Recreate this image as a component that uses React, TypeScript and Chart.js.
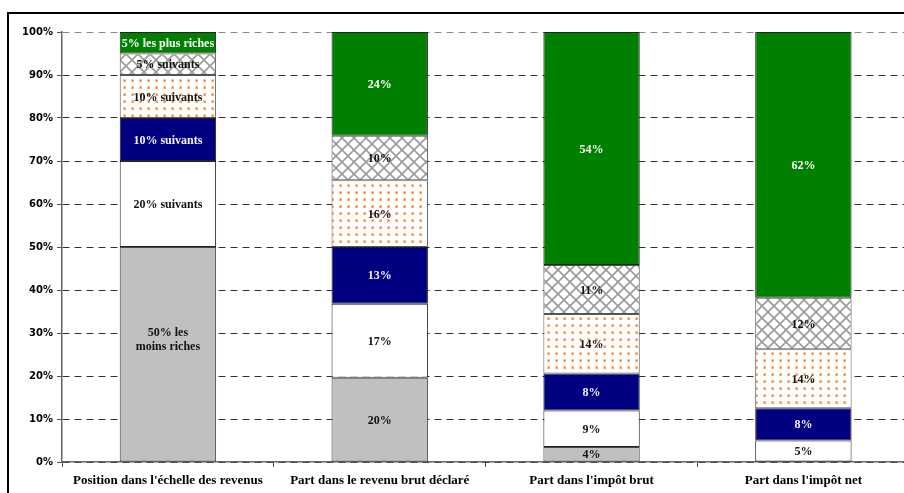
import React, { useEffect, useRef } from 'react';
import { Chart, registerables } from 'chart.js';
Chart.register(...registerables);

const categories = [
  "Position dans l'échelle des revenus",
  "Part dans le revenu brut déclaré",
  "Part dans l'impôt brut",
  "Part dans l'impôt net",
];
const yTicks = [0, 10, 20, 30, 40, 50, 60, 70, 80, 90, 100];

const poorest50 = [50, 19.6, 3.5, 0];
const next20 = [20, 17.2, 8.5, 5.0];
const next10a = [10, 13.2, 8.6, 7.5];
const next10b = [10, 15.5, 13.8, 13.7];
const next5 = [5, 10.4, 11.4, 12.0];
const richest5 = [5, 24.1, 54.2, 61.8];

const poorestLabels = ['50% les\nmoins riches', '20%', '4%', ''];
const next20Labels = ['20% suivants', '17%', '9%', '5%'];
const next10aLabels = ['10% suivants', '13%', '8%', '8%'];
const next10bLabels = ['10% suivants', '16%', '14%', '14%'];
const next5Labels = ['5% suivants', '10%', '11%', '12%'];
const richestLabels = ['5% les plus riches', '24%', '54%', '62%'];

function makeCross(): CanvasPattern | string {
  const s = 12;
  const c = document.createElement('canvas');
  c.width = s; c.height = s;
  const g = c.getContext('2d');
  if (!g) return '#fff';
  g.fillStyle = '#fff';
  g.fillRect(0, 0, s, s);
  g.strokeStyle = '#9a9a9a';
  g.lineWidth = 1.6;
  g.beginPath();
  g.moveTo(-2, -2); g.lineTo(s + 2, s + 2);
  g.moveTo(s + 2, -2); g.lineTo(-2, s + 2);
  g.stroke();
  return g.createPattern(c, 'repeat') || '#fff';
}

function makeDots(): CanvasPattern | string {
  const w = 8, h = 7;
  const c = document.createElement('canvas');
  c.width = w; c.height = h;
  const g = c.getContext('2d');
  if (!g) return '#fff';
  g.fillStyle = '#fff';
  g.fillRect(0, 0, w, h);
  g.fillStyle = '#ffc49a';
  g.fillRect(3, 2, 3, 3);
  g.fillStyle = '#f57f2a';
  g.fillRect(4, 3, 1.6, 1.6);
  return g.createPattern(c, 'repeat') || '#fff';
}

const labelPlugin = {
  id: 'barLabels',
  afterDatasetsDraw(chart: any) {
    const ctx = chart.ctx as CanvasRenderingContext2D;
    ctx.save();
    ctx.font = 'bold 12px "Liberation Serif", serif';
    ctx.textAlign = 'center';
    ctx.textBaseline = 'middle';
    chart.data.datasets.forEach((ds: any, i: number) => {
      const meta = chart.getDatasetMeta(i);
      meta.data.forEach((el: any, j: number) => {
        const text: string = ds.labelTexts[j];
        if (!text) return;
        const yc = (el.y + el.base) / 2;
        const lines = text.split('\n');
        ctx.fillStyle = ds.labelColor;
        if (lines.length > 1) {
          const lh = 14;
          lines.forEach((ln, k) => ctx.fillText(ln, el.x, yc - 21 + k * lh));
        } else {
          ctx.fillText(text, el.x, yc + 1);
        }
      });
    });
    ctx.restore();
  },
};

export default function App() {
  const ref = useRef<HTMLCanvasElement>(null);
  useEffect(() => {
    if (!ref.current) return;
    const cross = makeCross();
    const dots = makeDots();
    const border = '#222';
    const mk = (data: number[], bg: any, labels: string[], lc: string, bc = border) => ({
      data,
      backgroundColor: bg,
      borderColor: bc,
      borderWidth: 1,
      borderSkipped: false,
      labelTexts: labels,
      labelColor: lc,
    });
    const chart = new Chart(ref.current, {
      type: 'bar',
      data: {
        labels: categories,
        datasets: [
          mk(poorest50, '#c0c0c0', poorestLabels, '#111', '#444'),
          mk(next20, '#ffffff', next20Labels, '#111'),
          mk(next10a, '#000080', next10aLabels, '#f4f4ff'),
          mk(next10b, dots, next10bLabels, '#111', '#555'),
          mk(next5, cross, next5Labels, '#111', '#555'),
          mk(richest5, '#008000', richestLabels, '#ffffff'),
        ] as any,
      },
      options: {
        animation: false,
        responsive: false,
        maintainAspectRatio: false,
        layout: { padding: { top: 32, right: 10.7, left: 0, bottom: 0 } },
        datasets: { bar: { categoryPercentage: 1, barPercentage: 0.455 } },
        plugins: { legend: { display: false }, tooltip: { enabled: false } },
        scales: {
          x: {
            stacked: true,
            offset: true,
            grid: {
              display: true,
              drawOnChartArea: false,
              drawTicks: true,
              offset: true,
              tickLength: 5,
              tickColor: '#555',
              tickWidth: 1,
            },
            border: { color: '#666', width: 1.5 },
            ticks: {
              color: '#000',
              padding: 6,
              maxRotation: 0,
              autoSkip: false,
              font: { family: '"Liberation Serif", serif', size: 13, weight: 'bold' },
            },
            afterFit: (s: any) => { s.height = 31; },
          },
          y: {
            stacked: true,
            min: 0,
            max: 100,
            afterBuildTicks: (s: any) => { s.ticks = yTicks.map((v) => ({ value: v })); },
            grid: {
              color: (c: any) => (c.tick && c.tick.value === 100 ? '#8a8a8a' : '#333'),
              lineWidth: 1,
              tickLength: 5,
              tickColor: '#555',
              tickWidth: 1,
              tickBorderDash: [],
            },
            border: { color: '#666', width: 1.5, dash: [7, 5] },
            ticks: {
              color: '#000',
              padding: 4,
              callback: (v: any) => v + '%',
              font: { family: '"DejaVu Sans", sans-serif', size: 10, weight: 'bold' },
            },
            afterFit: (s: any) => { s.width = 62; },
          },
        },
      } as any,
      plugins: [labelPlugin],
    });
    return () => chart.destroy();
  }, []);

  return (
    <div style={{ position: 'fixed', left: 0, top: 0, width: 904, height: 493, overflow: 'hidden', background: '#fff' }}>
      <div
        style={{
          position: 'absolute', left: 7, top: 12, width: 1000, height: 1000,
          borderLeft: '2px solid #000', borderTop: '2px solid #000', boxSizing: 'border-box',
        }}
      />
      <canvas ref={ref} width={920} height={493} style={{ position: 'absolute', left: 0, top: 0, width: 920, height: 493 }} />
    </div>
  );
}
